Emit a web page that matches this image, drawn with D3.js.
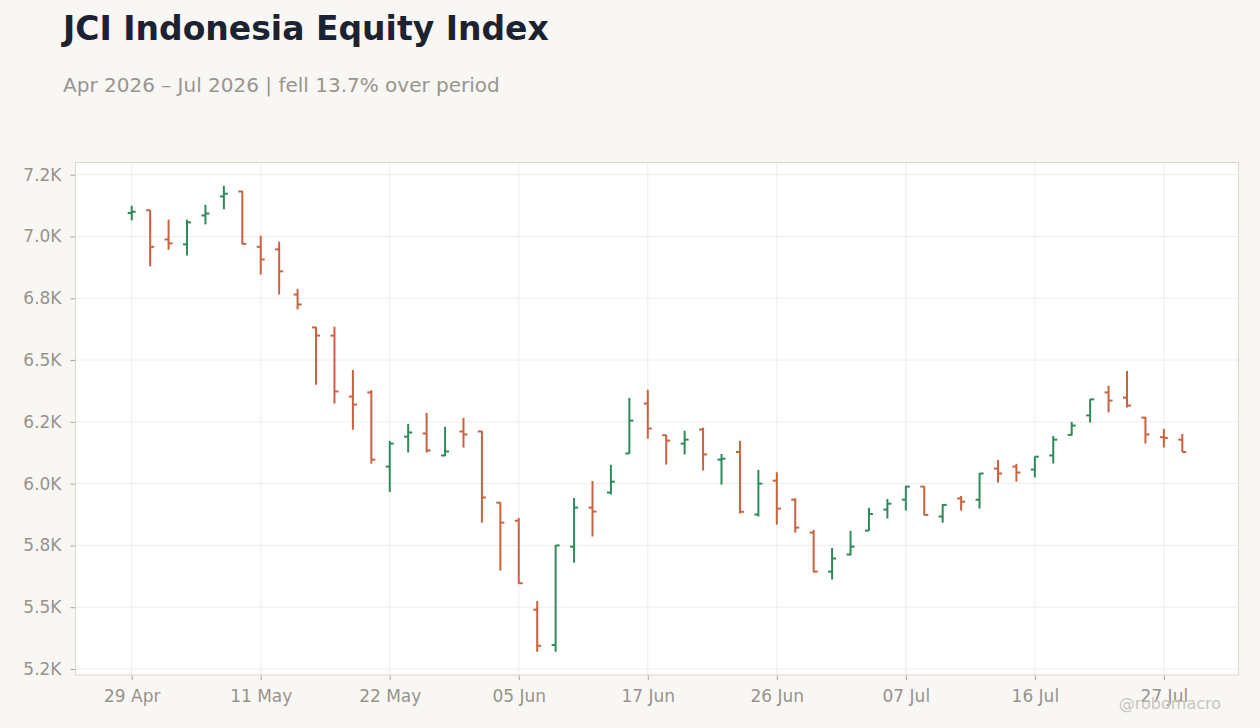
<!DOCTYPE html>
<html>
<head>
<meta charset="utf-8">
<script src="https://cdn.jsdelivr.net/npm/d3@7"></script>
<style>
  body { margin: 0; background: #f8f7f4; }
  svg { display: block; font-family: "DejaVu Sans", sans-serif; }
</style>
</head>
<body>
<div id="chart"></div>
<script>
// trading days shown on the chart
var dates = [
  "2026-04-29", "2026-04-30", "2026-05-04", "2026-05-05", "2026-05-06", "2026-05-07", "2026-05-08",
  "2026-05-11", "2026-05-12", "2026-05-13", "2026-05-18", "2026-05-19", "2026-05-20", "2026-05-21",
  "2026-05-22", "2026-05-25", "2026-05-26", "2026-05-29", "2026-06-02", "2026-06-03", "2026-06-04",
  "2026-06-05", "2026-06-08", "2026-06-09", "2026-06-10", "2026-06-11", "2026-06-12", "2026-06-15",
  "2026-06-17", "2026-06-18", "2026-06-19", "2026-06-22", "2026-06-23", "2026-06-24", "2026-06-25",
  "2026-06-26", "2026-06-29", "2026-06-30", "2026-07-01", "2026-07-02", "2026-07-03", "2026-07-06",
  "2026-07-07", "2026-07-08", "2026-07-09", "2026-07-10", "2026-07-13", "2026-07-14", "2026-07-15",
  "2026-07-16", "2026-07-17", "2026-07-20", "2026-07-21", "2026-07-22", "2026-07-23", "2026-07-24",
  "2026-07-27", "2026-07-28"
];

var openVals = [
  7095, 7106, 6988, 6968, 7085, 7162, 7182, 6958, 6948, 6765,
  6632, 6599, 6352, 6369, 6069, 6190, 6203, 6114, 6211, 6211,
  5923, 5850, 5490, 5347, 5745, 5903, 5964, 6122, 6324, 6196,
  6162, 6219, 6097, 6128, 5875, 6012, 5935, 5802, 5644, 5713,
  5810, 5895, 5935, 5988, 5867, 5940, 5935, 6061, 6069, 6057,
  6114, 6197, 6276, 6369, 6348, 6267, 6188, 6178
];
var highVals = [
  7124, 7107, 7068, 7068, 7128, 7205, 7184, 7003, 6979, 6788,
  6634, 6635, 6460, 6378, 6173, 6242, 6286, 6230, 6266, 6213,
  5925, 5861, 5525, 5751, 5942, 6011, 6076, 6347, 6380, 6197,
  6214, 6226, 6120, 6173, 6056, 6046, 5941, 5813, 5740, 5809,
  5902, 5938, 5991, 5989, 5917, 5950, 6042, 6096, 6080, 6110,
  6193, 6250, 6342, 6396, 6456, 6270, 6222, 6201
];
var lowVals = [
  7065, 6879, 6946, 6923, 7049, 7110, 6968, 6846, 6765, 6705,
  6400, 6324, 6218, 6081, 5966, 6126, 6126, 6111, 6146, 5842,
  5648, 5595, 5320, 5320, 5680, 5786, 5956, 6121, 6182, 6077,
  6118, 6053, 5996, 5879, 5867, 5834, 5802, 5641, 5612, 5710,
  5809, 5859, 5891, 5872, 5842, 5891, 5899, 6004, 6008, 6025,
  6081, 6195, 6247, 6288, 6308, 6162, 6146, 6128
];
var closeVals = [
  7100, 6958, 6972, 7057, 7093, 7173, 6970, 6907, 6859, 6725,
  6599, 6373, 6320, 6097, 6162, 6207, 6134, 6130, 6199, 5944,
  5842, 5597, 5344, 5750, 5903, 5887, 6008, 6255, 6223, 6174,
  6178, 6118, 6101, 5886, 6000, 5899, 5822, 5644, 5697, 5745,
  5877, 5919, 5988, 5873, 5914, 5927, 6041, 6041, 6045, 6109,
  6178, 6235, 6341, 6336, 6316, 6199, 6185, 6128
];

var yTickValues = [5250, 5500, 5750, 6000, 6250, 6500, 6750, 7000, 7250];
var yTickLabels = ["5.2K", "5.5K", "5.8K", "6.0K", "6.2K", "6.5K", "6.8K", "7.0K", "7.2K"];
var xTickIndex = [0, 7, 14, 21, 28, 35, 42, 49, 56];

var svgWidth = 1260;
var svgHeight = 728;

var margin = { top: 162.5, right: 21.5, bottom: 53, left: 75.5 };
var width = svgWidth - margin.left - margin.right;
var height = svgHeight - margin.top - margin.bottom;

var upColor = "#2e8b57";
var downColor = "#c9623f";
var textGrey = "#98928c";

var parseDate = d3.timeParse("%Y-%m-%d");
var fmtDate = d3.timeFormat("%d %b");

var data = dates.map(function(d, i) {
  return {
    i: i,
    date: parseDate(d),
    open: openVals[i],
    high: highVals[i],
    low: lowVals[i],
    close: closeVals[i]
  };
});

var svg = d3.select("#chart")
  .append("svg")
  .attr("width", svgWidth)
  .attr("height", svgHeight);

// title + subtitle
svg.append("text")
  .attr("x", 63)
  .attr("y", 40)
  .attr("font-size", "33px")
  .attr("font-weight", "bold")
  .attr("fill", "#1b2333")
  .text("JCI Indonesia Equity Index");

svg.append("text")
  .attr("x", 63)
  .attr("y", 92)
  .attr("font-size", "20px")
  .attr("fill", "#9a948e")
  .text("Apr 2026 – Jul 2026 | fell 13.7% over period");

var chartGroup = svg.append("g")
  .attr("transform", `translate(${margin.left}, ${margin.top})`);

chartGroup.append("rect")
  .attr("width", width)
  .attr("height", height)
  .attr("fill", "#ffffff");

// scales
var xScale = d3.scaleLinear()
  .domain([-3.05, data.length - 1 + 3.05])
  .range([0, width]);

var lo = d3.min(data, d => d.low);
var hi = d3.max(data, d => d.high);
var pad = (hi - lo) * 0.05;
var yScale = d3.scaleLinear()
  .domain([lo - pad, hi + pad])
  .range([height, 0]);

// gridlines
chartGroup.append("g")
  .selectAll("line")
  .data(yTickValues)
  .enter()
  .append("line")
  .attr("x1", 0)
  .attr("x2", width)
  .attr("y1", d => yScale(d))
  .attr("y2", d => yScale(d))
  .attr("stroke", "#ededed")
  .attr("stroke-width", 1);

chartGroup.append("g")
  .selectAll("line")
  .data(xTickIndex)
  .enter()
  .append("line")
  .attr("x1", d => xScale(d))
  .attr("x2", d => xScale(d))
  .attr("y1", 0)
  .attr("y2", height)
  .attr("stroke", "#ededed")
  .attr("stroke-width", 1);

// axes
var leftAxis = d3.axisLeft(yScale)
  .tickValues(yTickValues)
  .tickFormat((d, i) => yTickLabels[i])
  .tickSize(5)
  .tickPadding(9);

var bottomAxis = d3.axisBottom(xScale)
  .tickValues(xTickIndex)
  .tickFormat(d => fmtDate(data[d].date))
  .tickSize(5)
  .tickPadding(10);

var yAxis = chartGroup.append("g").call(leftAxis);
var xAxis = chartGroup.append("g")
  .attr("transform", `translate(0, ${height})`)
  .call(bottomAxis);

[yAxis, xAxis].forEach(function(ax) {
  ax.select(".domain").remove();
  ax.selectAll(".tick line").attr("stroke", "#aaa49e");
  ax.selectAll(".tick text")
    .attr("fill", textGrey)
    .attr("font-size", "17px")
    .attr("font-family", "DejaVu Sans, sans-serif");
});

// OHLC bars
var bars = chartGroup.append("g")
  .selectAll("g")
  .data(data)
  .enter()
  .append("g")
  .attr("stroke", d => d.close >= d.open ? upColor : downColor)
  .attr("stroke-width", 2);

bars.append("line")
  .attr("x1", d => xScale(d.i))
  .attr("x2", d => xScale(d.i))
  .attr("y1", d => yScale(d.high))
  .attr("y2", d => yScale(d.low));

bars.append("line")
  .attr("x1", d => xScale(d.i) - 4)
  .attr("x2", d => xScale(d.i))
  .attr("y1", d => yScale(d.open))
  .attr("y2", d => yScale(d.open));

bars.append("line")
  .attr("x1", d => xScale(d.i))
  .attr("x2", d => xScale(d.i) + 4)
  .attr("y1", d => yScale(d.close))
  .attr("y2", d => yScale(d.close));

// plot border
chartGroup.append("rect")
  .attr("width", width)
  .attr("height", height)
  .attr("fill", "none")
  .attr("stroke", "#ddd6cc")
  .attr("stroke-width", 1);

// watermark
svg.append("text")
  .attr("x", 1221)
  .attr("y", 709)
  .attr("text-anchor", "end")
  .attr("font-size", "16px")
  .attr("fill", "#c9c5bf")
  .text("@robomacro");
</script>
</body>
</html>
